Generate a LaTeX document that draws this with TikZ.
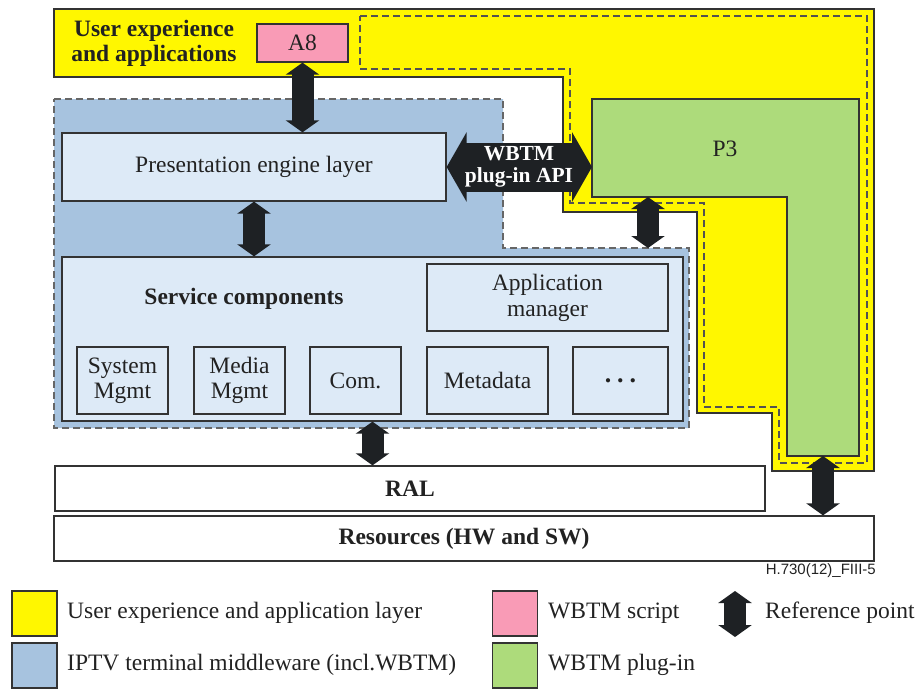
\documentclass[tikz,border=0pt]{standalone}
\usepackage{fontspec}
\setmainfont{Liberation Serif}
\newfontfamily\labelsans{Liberation Sans}
\usetikzlibrary{arrows.meta}
\definecolor{uxyellow}{HTML}{FFF700}
\definecolor{mwblue}{HTML}{A7C3DF}
\definecolor{boxblue}{HTML}{DDEAF7}
\definecolor{scriptpink}{HTML}{F99BB6}
\definecolor{plugreen}{HTML}{ADDB7B}
\definecolor{arrowdark}{HTML}{1E2124}
\definecolor{edgegray}{HTML}{333333}
\definecolor{txtgray}{HTML}{222222}
\tikzset{
  txt/.style={font=\fontsize{23.5}{25.5}\selectfont, text=txtgray},
  boxed/.style={draw=edgegray, line width=1.3pt, fill=boxblue, inner sep=0pt, align=center, txt},
  plainbox/.style={draw=edgegray, line width=1.3pt, fill=white, inner sep=0pt, align=center, txt},
  swatch/.style={draw=edgegray, line width=1.3pt, minimum width=45pt, minimum height=45pt, inner sep=0pt},
  refarrow/.style={line width=22pt, draw=arrowdark, {Triangle[length=12pt,width=33pt]}-{Triangle[length=12pt,width=33pt]}},
  legtext/.style={txt, anchor=west, inner sep=0pt},
}
\begin{document}
\begin{tikzpicture}[x=1pt, y=-1pt]
\useasboundingbox (0,0) rectangle (921,689);

% User experience layer (yellow)
\fill[uxyellow, draw=edgegray, line width=1.3pt]
  (54,9) -- (874,9) -- (874,471) -- (772,471) -- (772,413) -- (697,413)
  -- (697,212) -- (563,212) -- (563,77) -- (54,77) -- cycle;
\draw[edgegray!85, line width=1.1pt, dash pattern=on 7pt off 4pt]
  (360,16) -- (867,16) -- (867,463) -- (779,463) -- (779,407) -- (704,407)
  -- (704,203) -- (570,203) -- (570,69) -- (360,69) -- cycle;

% WBTM plug-in (green)
\fill[plugreen, draw=edgegray, line width=1.3pt]
  (592,99) -- (859,99) -- (859,456) -- (787,456) -- (787,197) -- (592,197) -- cycle;
\node[txt] (p3) at (725,149) {P3};
\coordinate (p3west) at (592,167);
\coordinate (p3foot) at (648,197);
\coordinate (p3bottom) at (823,456);

% IPTV terminal middleware (blue)
\fill[mwblue, draw=gray!80!black, line width=1.1pt, dash pattern=on 7pt off 4pt]
  (54,99) -- (503,99) -- (503,248) -- (689,248) -- (689,428) -- (54,428) -- cycle;
\coordinate (mwstep) at (648,248);

\node[txt, font=\fontsize{23.5}{25}\selectfont\bfseries, align=center] (uxtitle) at (154,43) {User experience\\and applications};
\node[boxed, fill=scriptpink, minimum width=91pt, minimum height=38pt] (a8) at (302.5,43) {A8};

\node[boxed, minimum width=384pt, minimum height=68pt] (pel) at (254,167) {Presentation engine layer};

\node[boxed, minimum width=621pt, minimum height=164pt] (svc) at (372.5,339) {};
\node[txt, font=\fontsize{23.5}{25}\selectfont\bfseries] (svctitle) at (244,299) {Service components};
\node[boxed, minimum width=241pt, minimum height=67pt, font=\fontsize{23.5}{26}\selectfont] (appmgr) at (547.5,297.5) {Application\\manager};
\node[boxed, minimum width=91pt, minimum height=67pt] (sysm) at (122.5,380.5) {System\\Mgmt};
\node[boxed, minimum width=91pt, minimum height=67pt] (medm) at (239.5,380.5) {Media\\Mgmt};
\node[boxed, minimum width=91pt, minimum height=67pt] (com) at (355.5,380.5) {Com.};
\node[boxed, minimum width=121pt, minimum height=67pt] (meta) at (487.5,380.5) {Metadata};
\node[boxed, minimum width=95pt, minimum height=67pt, font=\fontsize{26}{26}\selectfont\bfseries] (more) at (620.5,380.5) {.\hspace{6pt}.\hspace{6pt}.};

\node[plainbox, minimum width=710pt, minimum height=45pt, font=\fontsize{23.5}{25}\selectfont\bfseries] (ral) at (410,488.5) {RAL};
\node[plainbox, minimum width=820pt, minimum height=45pt, font=\fontsize{23.5}{25}\selectfont\bfseries] (res) at (464,538.5) {Resources (HW and SW)};
\node[anchor=east, inner sep=0pt, text=txtgray, font=\labelsans\fontsize{15}{16}\selectfont] (figid) at (876,571) {H.730(12)\_FIII-5};

% Reference points
\draw[refarrow] (a8.south) -- (a8.south |- pel.north);
\draw[refarrow] (pel.south) -- (pel.south |- svc.north);
\draw[refarrow] (p3foot) -- (mwstep);
\draw[refarrow] (svc.south) -- (svc.south |- ral.north);
\draw[refarrow] (p3bottom) -- (p3bottom |- res.north);

% WBTM plug-in API
\draw[line width=49pt, draw=arrowdark, {Triangle[length=20pt,width=69pt]}-{Triangle[length=20pt,width=69pt]}] (pel.east) -- (p3west);
\node[align=center, text=white, font=\fontsize{21.5}{21.5}\selectfont\bfseries, inner sep=0pt] (api) at (519,167) {WBTM\\plug-in API};

% Legend
\node[swatch, fill=uxyellow] (lgux) at (34.5,613.5) {};
\node[swatch, fill=mwblue] (lgmw) at (34.5,665.5) {};
\node[swatch, fill=scriptpink] (lgscript) at (515,613.5) {};
\node[swatch, fill=plugreen] (lgplug) at (515,665.5) {};
\node[legtext] (lguxt) at (67,613) {User experience and application layer};
\node[legtext] (lgmwt) at (67,665) {IPTV terminal middleware (incl.WBTM)};
\node[legtext] (lgscriptt) at (548,613) {WBTM script};
\node[legtext] (lgplugt) at (548,665) {WBTM plug-in};
\coordinate (lgreftop) at (735,591);
\coordinate (lgrefbot) at (735,637);
\draw[refarrow] (lgreftop) -- (lgrefbot);
\node[legtext] (lgreft) at (765,613) {Reference point};
\end{tikzpicture}
\end{document}
